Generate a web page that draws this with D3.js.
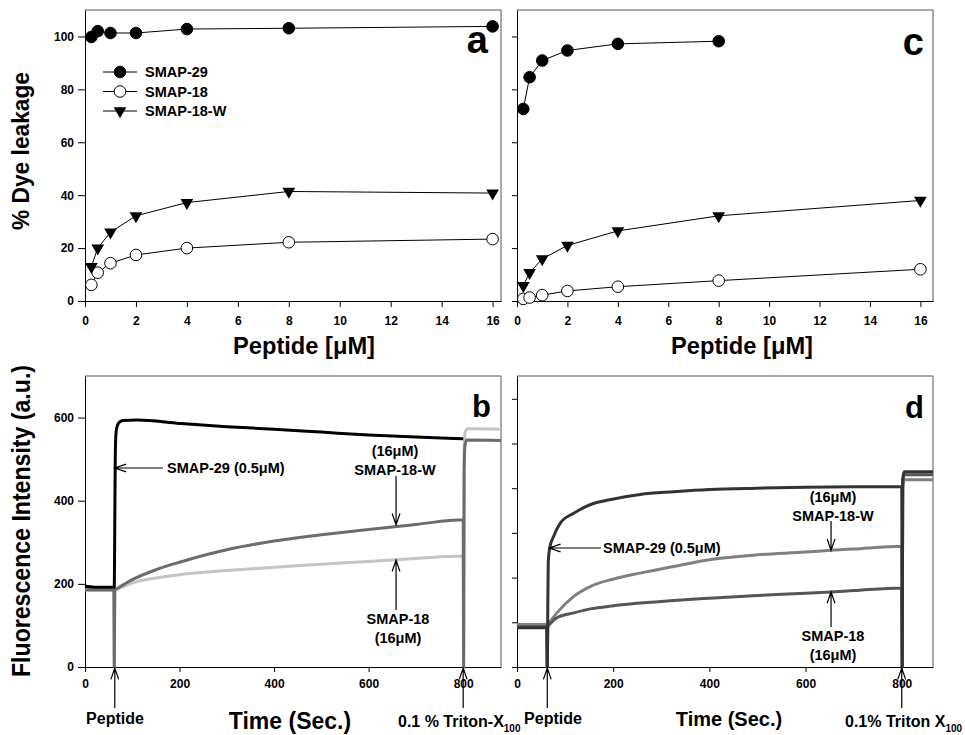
<!DOCTYPE html>
<html lang="en">
<head>
<meta charset="UTF-8">
<title>Dye leakage and fluorescence kinetics</title>
<style>
  body { margin: 0; background: #fff; }
  svg { font-family: "Liberation Sans", Arial, Helvetica, sans-serif; font-weight: bold; }
  .axis path, .axis line { stroke: #000; }
  .axis text { font-size: 12px; font-weight: bold; fill: #000; font-family: "Liberation Sans", Arial, sans-serif; }
  .frame { fill: none; stroke: #555; stroke-width: 1; }
  .link { fill: none; stroke: #000; stroke-width: 1; }
  .trace { fill: none; stroke-width: 3; stroke-linejoin: round; }
  .note { font-size: 14.5px; }
  .cue { font-size: 16px; }
  .arrow { fill: none; stroke: #000; stroke-width: 1.2; }
</style>
</head>
<body>
<script src="https://cdn.jsdelivr.net/npm/d3@7"></script>
<script>
// ---- panels a / c : dye leakage vs peptide concentration
const concentration = [0.25, 0.5, 1, 2, 4, 8, 16]
const leakA29 = [99.8, 102, 101.3, 101.3, 102.8, 103.1, 103.8]
const leakA18 = [6.1, 10.7, 14.3, 17.4, 20, 22.2, 23.4]
const leakA18W = [13, 20, 26, 32.2, 37.2, 41.4, 40.8]
const leakC29 = [72.6, 84.6, 90.9, 94.7, 97.2, 98.2]
const leakC18 = [0.8, 1.3, 2.2, 3.8, 5.4, 7.7, 12]
const leakC18W = [5.8, 10.7, 15.9, 21, 26.5, 32.2, 38]
const concTicks = [0, 2, 4, 6, 8, 10, 12, 14, 16]
const leakTicks = [0, 20, 40, 60, 80, 100]

// ---- panels b / d : fluorescence traces (time in s, intensity in a.u.)
const timeB29 = [0, 20, 40, 62, 63, 64, 65, 67, 72, 80, 110, 200, 300, 400, 500, 600, 700, 800]
const fluoB29 = [194, 192, 192, 192, 350, 500, 550, 575, 588, 593, 594, 586, 578, 572, 565, 558, 553, 549]
const timeB18W = [0, 30, 61, 62, 63, 70, 100, 150, 200, 300, 400, 500, 600, 700, 800, 801, 802, 804, 808, 880]
const fluoB18W = [186, 185, 185, 0, 185, 190, 210, 234, 252, 282, 303, 318, 331, 343, 354, 0, 470, 535, 546, 545]
const timeB18 = [0, 30, 61, 62, 63, 70, 100, 150, 200, 300, 400, 500, 600, 700, 800, 801, 802, 804, 810, 880]
const fluoB18 = [186, 185, 185, 0, 185, 188, 202, 214, 222, 232, 240, 247, 254, 261, 267, 0, 520, 565, 573, 572]

const timeD29 = [0, 30, 62, 63, 64, 65, 68, 76, 90, 118, 152, 201, 256, 326, 400, 500, 600, 700, 800, 801, 802, 805, 865]
const fluoD29 = [88, 88, 88, 0, 130, 235, 266, 292, 322, 344, 363, 376, 386, 392, 397, 400, 402, 403, 404, 0, 420, 437, 437]
const timeD18W = [0, 30, 62, 63, 64, 70, 83, 118, 152, 201, 256, 326, 400, 500, 600, 653, 700, 800, 801, 802, 805, 865]
const fluoD18W = [95, 95, 95, 0, 95, 103, 121, 158, 180, 197, 210, 225, 240, 251, 257, 261, 264, 270, 0, 400, 419, 419]
const timeD18 = [0, 30, 62, 63, 64, 70, 83, 118, 152, 201, 256, 326, 400, 500, 600, 653, 700, 800, 801, 802, 805, 865]
const fluoD18 = [90, 90, 90, 0, 90, 98, 110, 121, 130, 137, 143, 149, 154, 160, 165, 168, 171, 177, 0, 410, 430, 430]
const timeTicks = [0, 200, 400, 600, 800]
const fluoTicksB = [0, 200, 400, 600]
const fluoTicksD = [0, 100, 200, 300, 400, 500, 600]

const svg = d3.select('body').append('svg').attr('width', 965).attr('height', 735)

const xA = d3.scaleLinear().domain([0, 16.33]).range([85, 501])
const yA = d3.scaleLinear().domain([0, 110]).range([301, 10])
const xC = d3.scaleLinear().domain([0, 16.5]).range([517, 933])
const yC = yA.copy()
const xB = d3.scaleLinear().domain([0, 880]).range([85, 501])
const yB = d3.scaleLinear().domain([0, 700]).range([667, 376])
const xD = d3.scaleLinear().domain([0, 865]).range([517, 933])
const yD = d3.scaleLinear().domain([0, 651]).range([667, 376])

function frame (x, y) {
  const [x0, x1] = x.range()
  const [y0, y1] = y.range()
  svg.append('path').attr('class', 'frame').attr('d', `M${x0},${y1}H${x1}V${y0}`)
}

function axes (x, y, xt, yt, opt) {
  const [y0] = y.range()
  const [x0] = x.range()
  svg.append('g').attr('class', 'axis')
    .attr('transform', `translate(0,${y0})`)
    .call(d3.axisBottom(x).tickValues(xt).tickSize(opt.xSize).tickPadding(opt.xPad).tickSizeOuter(0))
  svg.append('g').attr('class', 'axis')
    .attr('transform', `translate(${x0},0)`)
    .call(d3.axisLeft(y).tickValues(yt).tickSize(opt.ySize).tickPadding(4).tickSizeOuter(0)
      .tickFormat(opt.yLabels ? d3.format('d') : ''))
}

function arrow (x1, y1, x2, y2) {
  const a = Math.atan2(y2 - y1, x2 - x1)
  const L = 12
  const w = 0.33
  svg.append('path').attr('class', 'arrow').attr('d',
    `M${x1},${y1}L${x2},${y2}` +
    `M${x2 - L * Math.cos(a - w)},${y2 - L * Math.sin(a - w)}L${x2},${y2}` +
    `L${x2 - L * Math.cos(a + w)},${y2 - L * Math.sin(a + w)}`)
}

function note (x, y, lines, anchor, cls) {
  lines.forEach((s, i) => {
    svg.append('text').attr('class', cls || 'note').attr('x', x).attr('y', y + i * 18.5)
      .attr('text-anchor', anchor || 'middle').text(s)
  })
}

// leakage panels
function leakage (x, y, series) {
  frame(x, y)
  axes(x, y, concTicks, leakTicks, series.opt)
  series.sets.forEach(s => {
    const pts = s.values.map((v, i) => [concentration[i], v])
    svg.append('path').attr('class', 'link')
      .attr('d', d3.line().x(d => x(d[0])).y(d => y(d[1]))(pts))
    pts.forEach(d => marker(s.kind, x(d[0]), y(d[1])))
  })
}

function marker (kind, cx, cy) {
  if (kind === 'tri') {
    svg.append('path').attr('d', d3.symbol(d3.symbolTriangle, 70)())
      .attr('transform', `translate(${cx},${cy}) rotate(180)`).attr('fill', '#000')
  } else {
    svg.append('circle').attr('cx', cx).attr('cy', cy).attr('r', 5.8)
      .attr('fill', kind === 'fill' ? '#000' : '#fff').attr('stroke', '#000').attr('stroke-width', 1)
  }
}

leakage(xA, yA, {
  opt: { xSize: 6, xPad: 9, ySize: 7, yLabels: true },
  sets: [
    { kind: 'open', values: leakA18 },
    { kind: 'tri', values: leakA18W },
    { kind: 'fill', values: leakA29 }
  ]
})
leakage(xC, yC, {
  opt: { xSize: 6, xPad: 9, ySize: 5, yLabels: false },
  sets: [
    { kind: 'open', values: leakC18 },
    { kind: 'tri', values: leakC18W },
    { kind: 'fill', values: leakC29 }
  ]
})

// legend (panel a)
;[['fill', 'SMAP-29'], ['open', 'SMAP-18'], ['tri', 'SMAP-18-W']].forEach(([kind, label], i) => {
  const ly = 72 + i * 19.5
  svg.append('line').attr('class', 'link').attr('x1', 103).attr('x2', 137).attr('y1', ly).attr('y2', ly)
  marker(kind, 120, ly)
  svg.append('text').attr('class', 'note').attr('x', 145).attr('y', ly + 5).text(label)
})

// fluorescence panels
function traces (x, y, sets, yt, opt) {
  frame(x, y)
  axes(x, y, timeTicks, yt, opt)
  const line = d3.line().curve(d3.curveMonotoneX).x(d => x(d[0])).y(d => y(d[1]))
  sets.forEach(s => {
    const pts = s.t.map((t, i) => [t, s.v[i]])
    svg.append('path').attr('class', 'trace').attr('stroke', s.color).attr('d', line(pts))
  })
}

traces(xB, yB, [
  { t: timeB18, v: fluoB18, color: '#c4c4c4' },
  { t: timeB18W, v: fluoB18W, color: '#6c6c6c' },
  { t: timeB29, v: fluoB29, color: '#000' }
], fluoTicksB, { xSize: 5, xPad: 7, ySize: 7, yLabels: true })

traces(xD, yD, [
  { t: timeD18W, v: fluoD18W, color: '#808080' },
  { t: timeD18, v: fluoD18, color: '#555' },
  { t: timeD29, v: fluoD29, color: '#333' }
], fluoTicksD, { xSize: 5, xPad: 7, ySize: 5, yLabels: false })

// panel letters
svg.append('text').attr('x', 488).attr('y', 53).attr('text-anchor', 'end').attr('font-size', 38).text('a')
svg.append('text').attr('x', 924).attr('y', 55).attr('text-anchor', 'end').attr('font-size', 38).text('c')
svg.append('text').attr('x', 491).attr('y', 417).attr('text-anchor', 'end').attr('font-size', 31).text('b')
svg.append('text').attr('x', 924).attr('y', 418).attr('text-anchor', 'end').attr('font-size', 31).text('d')

// axis titles
svg.append('text').attr('transform', 'translate(29,151) rotate(-90)').attr('text-anchor', 'middle')
  .attr('font-size', 24).attr('textLength', 158).attr('lengthAdjust', 'spacingAndGlyphs').text('% Dye leakage')
svg.append('text').attr('transform', 'translate(30,521) rotate(-90)').attr('text-anchor', 'middle')
  .attr('font-size', 25).attr('textLength', 312).attr('lengthAdjust', 'spacingAndGlyphs').text('Fluorescence Intensity (a.u.)')
;[304, 742].forEach(cx => {
  svg.append('text').attr('x', cx).attr('y', 354).attr('text-anchor', 'middle')
    .attr('font-size', 24).attr('textLength', 142).attr('lengthAdjust', 'spacingAndGlyphs').text('Peptide [μM]')
})
svg.append('text').attr('x', 290).attr('y', 729).attr('text-anchor', 'middle').attr('font-size', 23).text('Time (Sec.)')
svg.append('text').attr('x', 729).attr('y', 726).attr('text-anchor', 'middle').attr('font-size', 20).text('Time (Sec.)')

// annotations, panel b
arrow(163, 468, xB(63), 468)
note(167, 473, ['SMAP-29 (0.5μM)'], 'start')
note(395, 456, ['(16μM)', 'SMAP-18-W'])
arrow(xB(658), 476, xB(658), yB(342))
note(398, 624, ['SMAP-18', '(16μM)'])
arrow(xB(658), 610, xB(658), yB(257))
arrow(xB(63), 708, xB(63), 668)
note(115, 724, ['Peptide'], 'middle', 'cue')
arrow(xB(800), 708, xB(800), 668)
const tb = svg.append('text').attr('class', 'cue').attr('x', 398).attr('y', 727)
tb.append('tspan').text('0.1 % Triton-X')
tb.append('tspan').attr('dy', 5).attr('font-size', 10).text('100')

// annotations, panel d
arrow(601, 548, xD(67), 548)
note(603, 553, ['SMAP-29 (0.5μM)'], 'start')
note(833, 502, ['(16μM)', 'SMAP-18-W'])
arrow(xD(653), 521, xD(653), yD(261))
note(833, 641, ['SMAP-18', '(16μM)'])
arrow(xD(653), 627, xD(653), yD(168))
arrow(xD(63), 708, xD(63), 668)
note(553, 724, ['Peptide'], 'middle', 'cue')
arrow(xD(800), 708, xD(800), 668)
const td = svg.append('text').attr('class', 'cue').attr('x', 845).attr('y', 727)
td.append('tspan').text('0.1% Triton X')
td.append('tspan').attr('dy', 5).attr('font-size', 10).text('100')
</script>
</body>
</html>
